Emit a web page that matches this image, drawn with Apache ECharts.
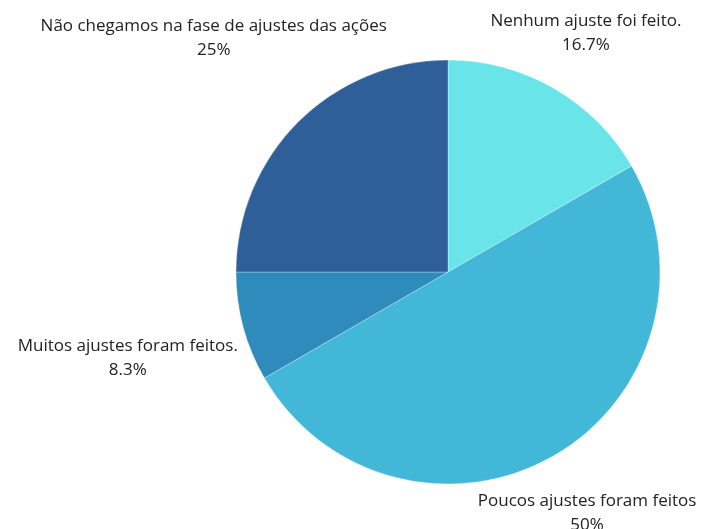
<!DOCTYPE html>
<html><head><meta charset="utf-8">
<script src="https://cdn.jsdelivr.net/npm/echarts@6/dist/echarts.min.js"></script>
<style>html,body{margin:0;padding:0;background:#fff}#c{width:701px;height:529px}</style>
</head><body><div id="c"></div>
<script>
const categories = ['Nenhum ajuste foi feito.', 'Poucos ajustes foram feitos', 'Muitos ajustes foram feitos.', 'Não chegamos na fase de ajustes das ações'];
const values = [2, 6, 1, 3];
const percentLabels = ['16.7%', '50%', '8.3%', '25%'];
const colors = ['#69E5EA', '#42B7D7', '#2E8BBB', '#2E5F99'];

const FONT_SIZE = 17, LINE_H = 24, FONT_FAMILY = 'Open Sans';
const chart = echarts.init(document.getElementById('c'), null, {renderer: 'canvas'});
const measureCtx = document.createElement('canvas').getContext('2d');
const GAP = 7;
function layoutLabel(params) {
  const i = params.dataIndex;
  const data = chart.getModel().getSeriesByIndex(0).getData();
  const lay = data.getItemLayout(i);
  const mid = (lay.startAngle + lay.endAngle) / 2;
  const ux = Math.cos(mid), uy = Math.sin(mid);
  measureCtx.font = FONT_SIZE + 'px "' + FONT_FAMILY + '"';
  const w = Math.max(measureCtx.measureText(categories[i]).width, measureCtx.measureText(percentLabels[i]).width);
  const h = LINE_H * 2;
  const target = lay.r + GAP;
  function nearDist(d) {
    const px = lay.cx + d * ux, py = lay.cy + d * uy;
    const nx = Math.max(px - w / 2, Math.min(lay.cx, px + w / 2));
    const ny = Math.max(py - h / 2, Math.min(lay.cy, py + h / 2));
    return Math.hypot(nx - lay.cx, ny - lay.cy);
  }
  let lo = 0, hi = lay.r + w + h + 100;
  for (let k = 0; k < 60; k++) {
    const m = (lo + hi) / 2;
    if (nearDist(m) < target) lo = m; else hi = m;
  }
  return {x: lay.cx + hi * ux, y: lay.cy + hi * uy, align: 'center', verticalAlign: 'middle'};
}

chart.setOption({
  animation: false,
  backgroundColor: '#fff',
  series: [{
    type: 'pie',
    center: [448, 272],
    radius: 212,
    startAngle: 90,
    clockwise: true,
    data: categories.map((n, i) => ({name: n, value: values[i], itemStyle: {color: colors[i]}})),
    itemStyle: {borderColor: 'rgba(255,255,255,0.6)', borderWidth: 0.5},
    label: {
      show: true,
      position: 'outside',
      formatter: p => p.name + '\n' + percentLabels[p.dataIndex],
      fontFamily: FONT_FAMILY,
      fontSize: FONT_SIZE,
      lineHeight: LINE_H,
      color: '#222',
      align: 'center',
      overflow: 'none'
    },
    labelLine: {show: false},
    labelLayout: layoutLabel,
    emphasis: {disabled: true}
  }]
});
</script></body></html>
